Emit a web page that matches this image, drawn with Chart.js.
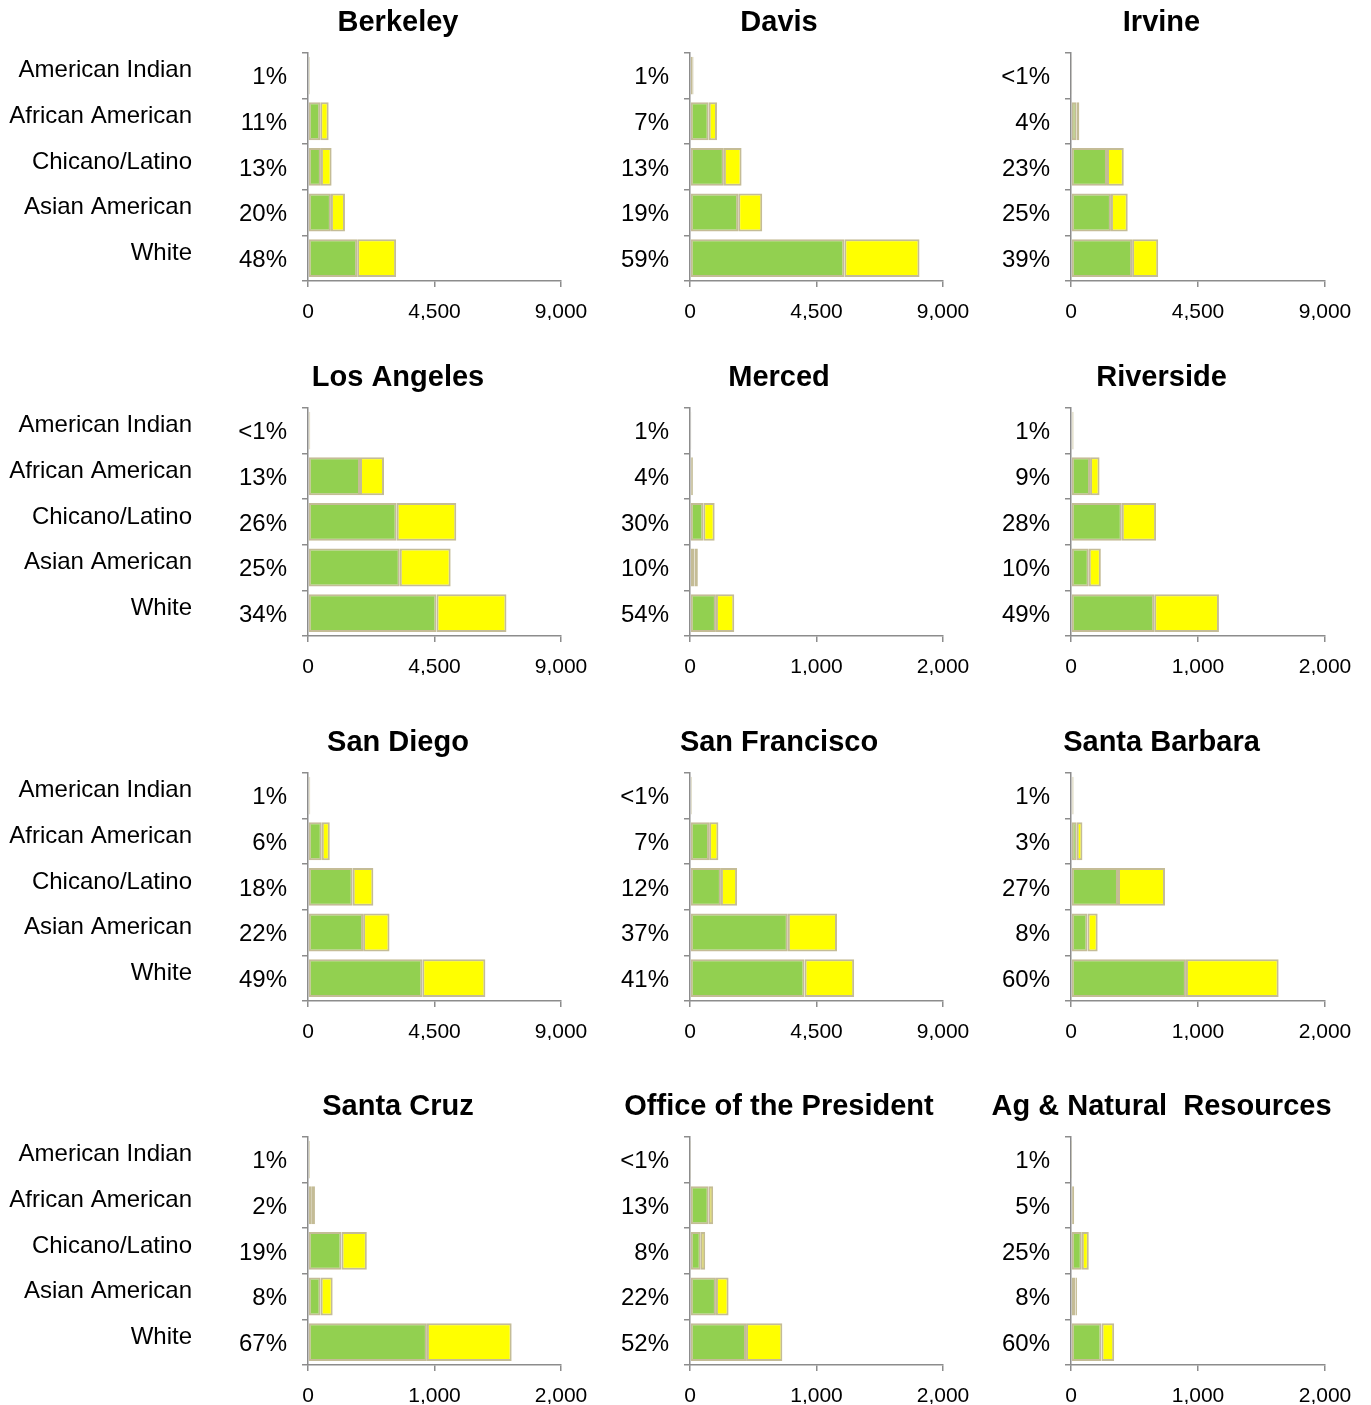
<!DOCTYPE html>
<html>
<head>
<meta charset="utf-8">
<title>UC campuses by ethnicity</title>
<script src="https://cdn.jsdelivr.net/npm/chart.js@4.4.1/dist/chart.umd.min.js"></script>
<style>
  html, body { margin: 0; padding: 0; background: #fff; overflow: hidden; }
  #wrap { position: relative; width: 1371px; height: 1405px; }
  #wrap canvas { position: absolute; }
</style>
</head>
<body>
<div id="wrap"></div>
<script>
// categories, top to bottom
const categories = ['American Indian', 'African American', 'Chicano/Latino', 'Asian American', 'White'];

const campuses = ['Berkeley', 'Davis', 'Irvine',
                  'Los Angeles', 'Merced', 'Riverside',
                  'San Diego', 'San Francisco', 'Santa Barbara',
                  'Santa Cruz', 'Office of the President', 'Ag & Natural  Resources'];

// x axis maximum per panel
const axisMax = [9000, 9000, 9000,
                 9000, 2000, 2000,
                 9000, 9000, 2000,
                 2000, 2000, 2000];

// green part of each bar (one row per campus)
const greenSeries = [
  [35, 435, 460, 815, 1750],      // Berkeley
  [80, 665, 1205, 1715, 5490],    // Davis
  [25, 190, 1275, 1415, 2165],    // Irvine
  [50, 1850, 3155, 3265, 4570],   // Los Angeles
  [6, 15, 105, 35, 205],          // Merced
  [12, 150, 400, 140, 655],       // Riverside
  [50, 490, 1590, 1960, 4065],    // San Diego
  [35, 680, 1100, 3480, 4075],    // San Francisco
  [12, 45, 370, 130, 905],        // Santa Barbara
  [10, 25, 265, 100, 940],        // Santa Cruz
  [3, 148, 85, 205, 443],         // Office of the President
  [2, 15, 85, 35, 240]            // Ag & Natural Resources
];

// yellow part of each bar
const yellowSeries = [
  [25, 300, 380, 500, 1385],
  [45, 295, 630, 855, 2675],
  [15, 105, 595, 595, 925],
  [30, 855, 2120, 1810, 2490],
  [4, 8, 90, 27, 145],
  [8, 75, 270, 95, 510],
  [30, 285, 735, 940, 2245],
  [25, 330, 575, 1750, 1765],
  [8, 45, 370, 80, 730],
  [6, 30, 200, 95, 670],
  [2, 35, 35, 100, 287],
  [1, 10, 55, 12, 100]
];

// share labels shown next to each bar
const pctLabels = [
  ['1%', '11%', '13%', '20%', '48%'],
  ['1%', '7%', '13%', '19%', '59%'],
  ['<1%', '4%', '23%', '25%', '39%'],
  ['<1%', '13%', '26%', '25%', '34%'],
  ['1%', '4%', '30%', '10%', '54%'],
  ['1%', '9%', '28%', '10%', '49%'],
  ['1%', '6%', '18%', '22%', '49%'],
  ['<1%', '7%', '12%', '37%', '41%'],
  ['1%', '3%', '27%', '8%', '60%'],
  ['1%', '2%', '19%', '8%', '67%'],
  ['<1%', '13%', '8%', '22%', '52%'],
  ['1%', '5%', '25%', '8%', '60%']
];

const FONT = "'Liberation Sans', Arial, sans-serif";
const AXIS_GREY = '#8c8c8c';
const BAR_EDGE = '#c4bc96';

Chart.defaults.font.family = FONT;
Chart.defaults.color = '#000';

// panel geometry: canvas left/width per column, canvas top per row
const colLeft = [0, 583, 965];
const colWidth = [796, 392, 393];
const rowTop = [0, 355, 720, 1084];
const CANVAS_H = 320;
const leftAxisW = [110, 107, 106];
const rightSpace = [235, 32, 33];

function makePanel(i) {
  const col = i % 3, row = Math.floor(i / 3);
  const wrap = document.getElementById('wrap');
  const cv = document.createElement('canvas');
  cv.width = colWidth[col];
  cv.height = CANVAS_H;
  cv.style.left = colLeft[col] + 'px';
  cv.style.top = rowTop[row] + 'px';
  cv.style.width = colWidth[col] + 'px';
  cv.style.height = CANVAS_H + 'px';
  wrap.appendChild(cv);

  const pct = pctLabels[i];
  const max = axisMax[i];

  const scales = {
    x: {
      type: 'linear',
      stacked: true,
      min: 0,
      max: max,
      ticks: {
        stepSize: max / 2,
        padding: 13,
        font: { size: 21 },
        callback: v => v.toLocaleString('en-US')
      },
      grid: { drawOnChartArea: false, drawTicks: true, tickLength: 6, color: AXIS_GREY, lineWidth: 1.5 },
      border: { display: true, color: AXIS_GREY, width: 1.5 },
      afterFit: s => { s.height = 39; s.paddingLeft = 0; s.paddingRight = 0; }
    },
    y: {
      type: 'category',
      stacked: true,
      position: 'left',
      weight: 0,
      ticks: {
        padding: 15,
        labelOffset: 2,
        font: { size: 24 },
        callback: (v, idx) => pct[idx]
      },
      grid: { drawOnChartArea: false, drawTicks: true, tickLength: 6, offset: true, color: AXIS_GREY, lineWidth: 1.5 },
      border: { display: true, color: AXIS_GREY, width: 1.5 },
      afterFit: s => { s.width = leftAxisW[col]; }
    },
    // empty spacer on the right so the title centres over the whole panel
    spacer: {
      type: 'linear',
      position: 'right',
      display: true,
      ticks: { display: false },
      grid: { display: false, drawTicks: false },
      border: { display: false },
      afterFit: s => { s.width = rightSpace[col]; }
    }
  };

  if (col === 0) {
    scales.y2 = {
      type: 'category',
      labels: categories,
      position: 'left',
      weight: 10,
      offset: true,
      ticks: { padding: 6, labelOffset: -5, font: { size: 24 } },
      grid: { display: false, drawTicks: false },
      border: { display: false },
      afterFit: s => { s.width = 198; }
    };
  }

  new Chart(cv, {
    type: 'bar',
    data: {
      labels: categories,
      datasets: [
        { label: 'green', data: greenSeries[i], backgroundColor: '#92d050',
          borderColor: BAR_EDGE, borderWidth: 2, borderSkipped: false },
        { label: 'yellow', data: yellowSeries[i], backgroundColor: '#ffff00',
          borderColor: BAR_EDGE, borderWidth: 2, borderSkipped: false }
      ]
    },
    options: {
      indexAxis: 'y',
      responsive: false,
      animation: false,
      categoryPercentage: 0.83,
      barPercentage: 1,
      layout: { padding: 0 },
      plugins: {
        legend: { display: false },
        tooltip: { enabled: false },
        title: {
          display: true,
          text: campuses[i],
          font: { size: 29, weight: 'bold' },
          color: '#000',
          padding: { top: 6, bottom: 12 }
        }
      },
      scales: scales
    }
  });
}

for (let i = 0; i < campuses.length; i++) makePanel(i);
</script>
</body>
</html>
